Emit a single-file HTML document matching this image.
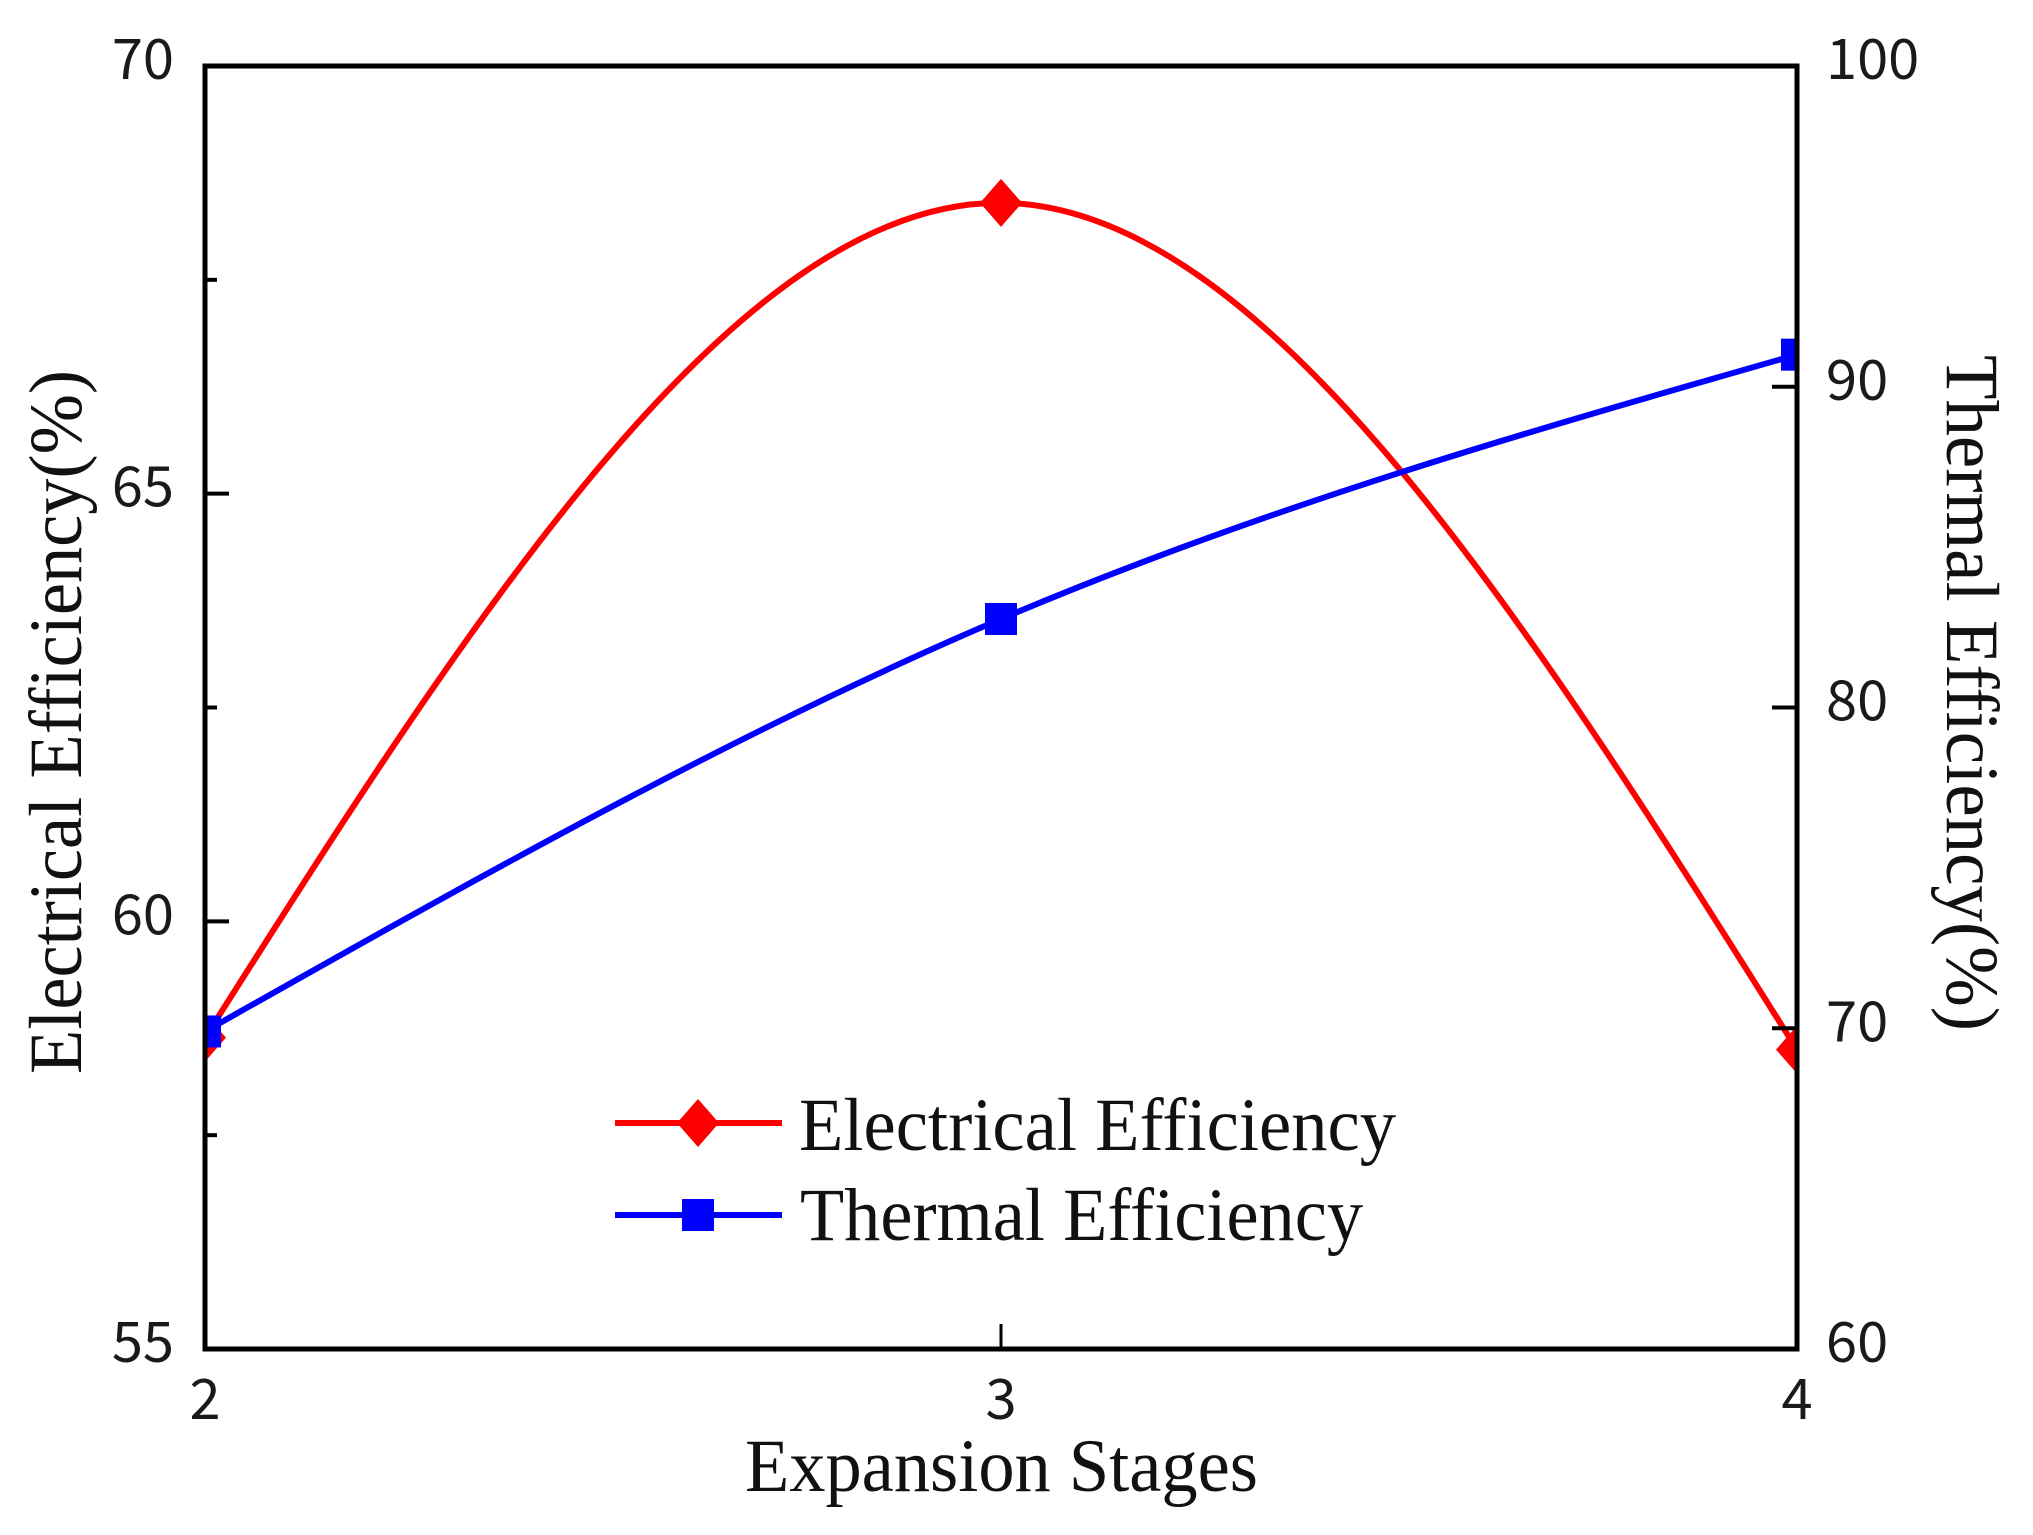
<!DOCTYPE html>
<html lang="en">
<head>
<meta charset="utf-8">
<title>Efficiency vs Expansion Stages</title>
<style>
html,body{margin:0;padding:0;background:#fff;}
svg{display:block;}
.num{font-family:"Noto Sans CJK SC","Liberation Sans",sans-serif;font-size:56px;fill:#1a1a1a;}
.lab{font-family:"Liberation Serif",serif;font-size:75px;fill:#111;}
</style>
</head>
<body>
<svg id="chart" xmlns="http://www.w3.org/2000/svg" width="2033" height="1535" viewBox="0 0 2033 1535"></svg>
<script>
const categories = [2, 3, 4];
const electricalValues = [58.64, 68.4, 58.5];
const thermalValues = [69.9, 82.76, 91.0];
const leftTickValues = [57.5, 60, 62.5, 65, 67.5];
const leftTickLabels = [55, 60, 65, 70];
const rightTickValues = [70, 80, 90];
const rightTickLabels = [60, 70, 80, 90, 100];
const xTickLabels = [2, 3, 4];

const plot = {left: 205, right: 1797, top: 66, bottom: 1349};
const svgNS = 'http://www.w3.org/2000/svg';
const svg = document.getElementById('chart');

function xScale(v) { return plot.left + (v - 2) / 2 * (plot.right - plot.left); }
function yLeft(v) { return plot.bottom - (v - 55) / 15 * (plot.bottom - plot.top); }
function yRight(v) { return plot.bottom - (v - 60) / 40 * (plot.bottom - plot.top); }

function make(tag, attrs, parent) {
  const el = document.createElementNS(svgNS, tag);
  for (const k in attrs) el.setAttribute(k, attrs[k]);
  (parent || svg).appendChild(el);
  return el;
}

/* Natural cubic spline through the data, emitted as Bezier segments */
function splinePath(xs, ys) {
  const n = xs.length;
  const m = new Array(n).fill(0);
  const c = new Array(n).fill(0);
  const d = new Array(n).fill(0);
  for (let i = 1; i < n - 1; i++) {
    const h0 = xs[i] - xs[i - 1];
    const h1 = xs[i + 1] - xs[i];
    const rhs = 6 * ((ys[i + 1] - ys[i]) / h1 - (ys[i] - ys[i - 1]) / h0);
    const den = 2 * (h0 + h1) - h0 * c[i - 1];
    c[i] = h1 / den;
    d[i] = (rhs - h0 * d[i - 1]) / den;
  }
  for (let i = n - 2; i > 0; i--) m[i] = d[i] - c[i] * m[i + 1];
  let p = 'M' + xs[0] + ' ' + ys[0];
  for (let i = 0; i < n - 1; i++) {
    const h = xs[i + 1] - xs[i];
    const s0 = (ys[i + 1] - ys[i]) / h - h * (2 * m[i] + m[i + 1]) / 6;
    const s1 = (ys[i + 1] - ys[i]) / h + h * (m[i] + 2 * m[i + 1]) / 6;
    p += ' C' + (xs[i] + h / 3) + ' ' + (ys[i] + s0 * h / 3) + ' ' +
         (xs[i + 1] - h / 3) + ' ' + (ys[i + 1] - s1 * h / 3) + ' ' +
         xs[i + 1] + ' ' + ys[i + 1];
  }
  return p;
}

function diamondPoints(cx, cy) {
  return [cx, cy - 24, cx + 21, cy, cx, cy + 24, cx - 21, cy].join(',');
}

const defs = make('defs', {});
const clip = make('clipPath', {id: 'plot-clip'}, defs);
make('rect', {x: plot.left, y: plot.top, width: plot.right - plot.left, height: plot.bottom - plot.top}, clip);

const bg = make('rect', {x: 0, y: 0, width: 2033, height: 1535, fill: '#fff'});



/* Series */
const seriesLayer = make('g', {'clip-path': 'url(#plot-clip)'});



const xPx = categories.map(xScale);

const redLine = make('path', {d: splinePath(xPx, electricalValues.map(yLeft)), fill: 'none', stroke: '#ff0000', 'stroke-width': 6}, seriesLayer);



categories.forEach(function (c, i) {
  const mark = make('polygon', {points: diamondPoints(xScale(c), yLeft(electricalValues[i])), fill: '#ff0000'}, seriesLayer);
  
  
});

const blueLine = make('path', {d: splinePath(xPx, thermalValues.map(yRight)), fill: 'none', stroke: '#0000ff', 'stroke-width': 6}, seriesLayer);



categories.forEach(function (c, i) {
  const mark = make('rect', {x: xScale(c) - 16, y: yRight(thermalValues[i]) - 16, width: 32, height: 32, fill: '#0000ff'}, seriesLayer);
  
  
});

/* Ticks */
leftTickValues.forEach(function (v) {
  const isMajor = v % 5 === 0;
  const t = make('line', {x1: plot.left, x2: plot.left + (isMajor ? 24 : 12), y1: yLeft(v), y2: yLeft(v), stroke: '#000', 'stroke-width': 4});
  
  
});
rightTickValues.forEach(function (v) {
  const t = make('line', {x1: plot.right - 25, x2: plot.right, y1: yRight(v), y2: yRight(v), stroke: '#000', 'stroke-width': 4});
  
  
});
const midTick = make('line', {x1: xScale(3), x2: xScale(3), y1: plot.bottom - 25, y2: plot.bottom, stroke: '#000', 'stroke-width': 3});



/* Frame */
const frame = make('rect', {x: plot.left, y: plot.top, width: plot.right - plot.left, height: plot.bottom - plot.top, fill: 'none', stroke: '#000', 'stroke-width': 5});



/* Tick labels */
leftTickLabels.forEach(function (v) {
  const t = make('text', {x: 174, y: yLeft(v) + 13, 'text-anchor': 'end', 'class': 'num'});
  t.textContent = v;
  
  
});
rightTickLabels.forEach(function (v) {
  const t = make('text', {x: 1826, y: yRight(v) + 13, 'text-anchor': 'start', 'class': 'num'});
  t.textContent = v;
  
  
});
xTickLabels.forEach(function (v) {
  const t = make('text', {x: xScale(v), y: 1419, 'text-anchor': 'middle', 'class': 'num'});
  t.textContent = v;
  
  
});

/* Axis titles */
const yTitle = make('text', {transform: 'translate(81,1074) rotate(-90)', 'class': 'lab', textLength: 704, lengthAdjust: 'spacingAndGlyphs'});
yTitle.textContent = 'Electrical Efficiency(%)';



const y2Title = make('text', {transform: 'translate(1947,355) rotate(90)', 'class': 'lab', textLength: 676, lengthAdjust: 'spacingAndGlyphs'});
y2Title.textContent = 'Thermal Efficiency(%)';



const xTitle = make('text', {x: 745, y: 1491, 'class': 'lab', textLength: 513, lengthAdjust: 'spacingAndGlyphs'});
xTitle.textContent = 'Expansion Stages';



/* Legend */
const legendRed = make('g', {});


make('line', {x1: 615, x2: 782, y1: 1123, y2: 1123, stroke: '#ff0000', 'stroke-width': 6}, legendRed);
make('polygon', {points: diamondPoints(698, 1123), fill: '#ff0000'}, legendRed);
const legendRedText = make('text', {x: 799, y: 1150, 'class': 'lab', textLength: 597, lengthAdjust: 'spacingAndGlyphs'}, legendRed);
legendRedText.textContent = 'Electrical Efficiency';

const legendBlue = make('g', {});


make('line', {x1: 615, x2: 782, y1: 1215, y2: 1215, stroke: '#0000ff', 'stroke-width': 6}, legendBlue);
make('rect', {x: 682, y: 1199, width: 32, height: 32, fill: '#0000ff'}, legendBlue);
const legendBlueText = make('text', {x: 800, y: 1240, 'class': 'lab', textLength: 563, lengthAdjust: 'spacingAndGlyphs'}, legendBlue);
legendBlueText.textContent = 'Thermal Efficiency';
</script>
</body>
</html>
